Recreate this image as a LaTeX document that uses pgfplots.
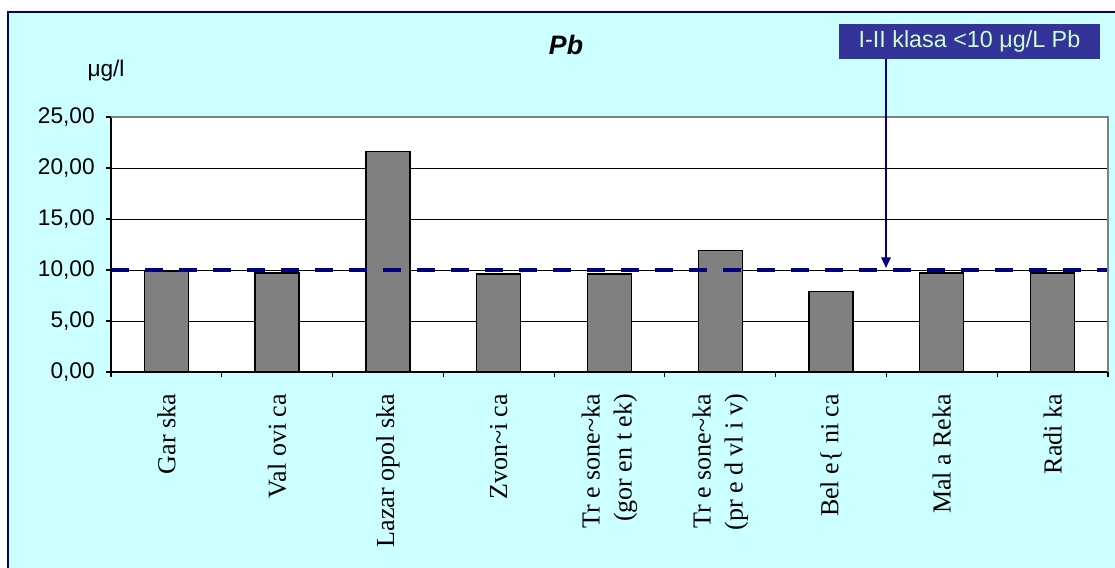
\documentclass[border=0pt]{standalone}
\usepackage{pgfplots}
\pgfplotsset{compat=1.18}
\usetikzlibrary{arrows.meta}
\usepackage{fontspec}
\setmainfont{Liberation Serif}
\newfontfamily\arial{Liberation Sans}
\definecolor{bgcyan}{RGB}{204,255,255}
\definecolor{navy}{RGB}{0,0,128}
\definecolor{boxblue}{RGB}{51,51,153}
\definecolor{boxtext}{RGB}{204,255,204}
\definecolor{bargray}{RGB}{128,128,128}
\begin{document}
\begin{tikzpicture}
\useasboundingbox (0,0) rectangle (836.25pt,426pt);
\clip (0,0) rectangle (836.25pt,426pt);
\fill[white] (0,0) rectangle (836.25pt,426pt);
\filldraw[fill=bgcyan, draw=navy, line width=1.5pt] (6pt,-10pt) rectangle (850pt,417pt);
\begin{axis}[
  at={(83.25pt,147pt)}, anchor=south west,
  scale only axis, width=747.75pt, height=191.25pt,
  xmin=0.5, xmax=9.5, ymin=0, ymax=25,
  axis background/.style={fill=white},
  axis x line*=bottom, axis y line*=left,
  axis line style={black, line width=0.8pt, -},
  ytick={0,5,...,25},
  xtick={0.5,1.5,...,9.5},
  xticklabels={},
  tick align=outside,
  major tick length=3.75pt,
  tick style={black, line width=0.8pt},
  ymajorgrids, grid style={black, line width=0.6pt},
  yticklabel style={font=\arial\fontsize{17}{19}\selectfont, xshift=-5pt, /pgf/number format/.cd, fixed, fixed zerofill, precision=2, use comma, assume math mode=true},
  extra x ticks={1,...,9},
  extra x tick labels={Gar ska, Val ovi ca, Lazar opol ska, Zvon\textasciitilde i ca, {Tr e sone\textasciitilde ka\\(gor en t ek)}, {Tr e sone\textasciitilde ka\\(pr e d vl i v)}, Bel e\{ ni ca, Mal a Reka, Radi ka},
  extra x tick style={major tick length=0pt, grid=none},
  xticklabel style={font=\fontsize{19.5}{24}\selectfont, rotate=90, anchor=east, align=right},
  xticklabel shift=13pt,
  clip=false,
]
\addplot[ybar, bar width=33pt, fill=bargray, draw=black, line width=1pt] coordinates {(1,9.9) (2,9.7) (3,21.6) (4,9.6) (5,9.6) (6,11.9) (7,7.9) (8,9.7) (9,9.7)};
\addplot[navy, line width=3.6pt, dash pattern=on 13.5pt off 12pt] coordinates {(0.5,10) (9.5,10)};
\end{axis}
\draw[gray, line width=0.8pt] (83.25pt,338.25pt) -- (831pt,338.25pt) -- (831pt,147pt);
\node[font=\arial\bfseries\itshape\fontsize{20}{22}\selectfont] at (424.5pt,392pt) {Pb};
\node[font=\arial\fontsize{17}{19}\selectfont] at (79.5pt,372.75pt) {μg/l};
\draw[navy, line width=1.5pt, -{Triangle[width=7pt,length=8pt]}] (664.5pt,381.75pt) -- (664.5pt,225pt);
\node[fill=boxblue, text=boxtext, font=\arial\fontsize{17.5}{19}\selectfont, minimum width=195.75pt, minimum height=26.25pt, inner sep=0pt] at (727.1pt,394.9pt) {I-II klasa <10 μg/L Pb};
\end{tikzpicture}
\end{document}
